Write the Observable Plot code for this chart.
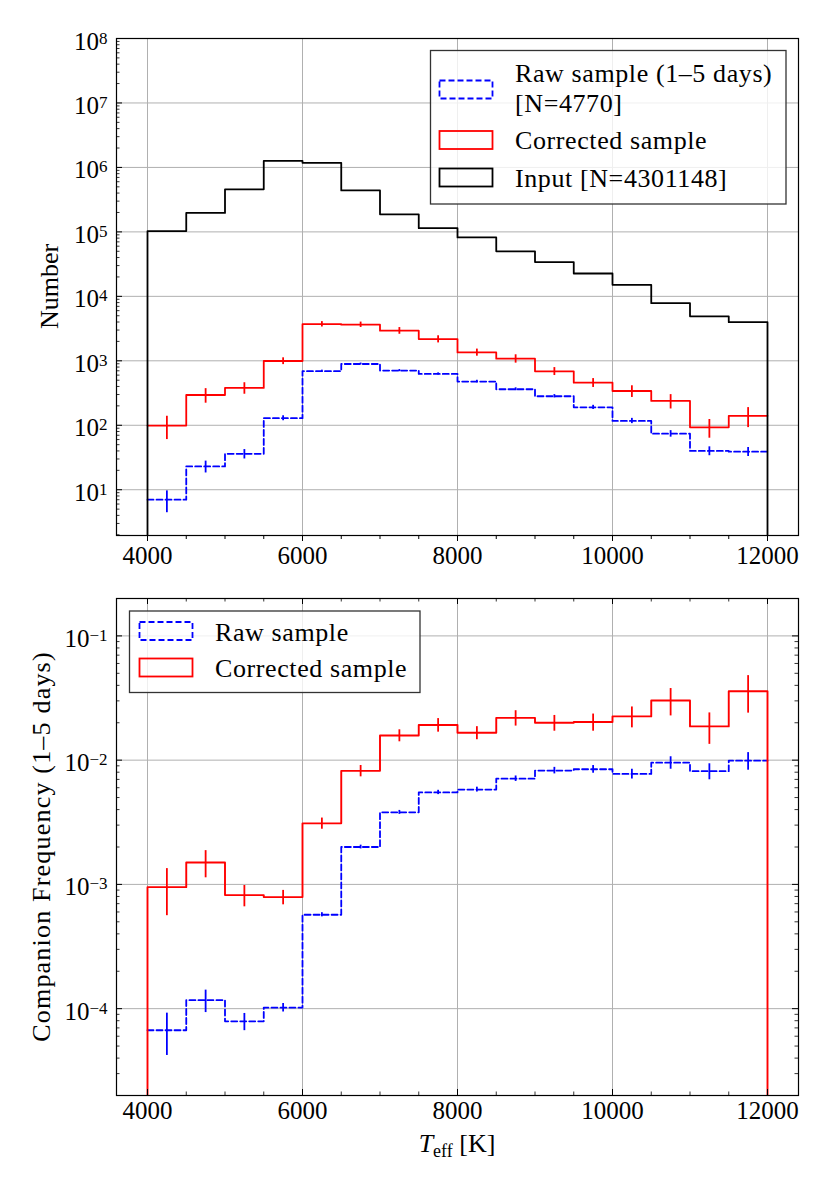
<!DOCTYPE html>
<html>
<head>
<meta charset="utf-8">
<script src="https://cdn.jsdelivr.net/npm/d3@7"></script>
<script src="https://cdn.jsdelivr.net/npm/@observablehq/plot@0.6"></script>
<style>
  body { margin: 0; background: #fff; }
  #chart svg { display: block; }
</style>
</head>
<body>
<div id="chart"></div>
<script>
// ---- data ----
const binEdges = [4000, 4500, 5000, 5500, 6000, 6500, 7000, 7500, 8000, 8500, 9000, 9500, 10000, 10500, 11000, 11500, 12000];

// top panel: numbers
const inputCounts = [1.03e5, 1.97e5, 4.57e5, 1.26e6, 1.18e6, 4.4e5, 1.87e5, 1.14e5, 8.2e4, 5.0e4, 3.4e4, 2.26e4, 1.51e4, 7.85e3, 4.9e3, 3.98e3];
const rawCounts = [7, 23, 36, 129, 690, 893, 705, 625, 477, 362, 282, 190, 117, 74, 40, 39];
const rawCountErr = [2.6, 4.8, 6.0, 11.4, 26, 30, 27, 25, 22, 19, 17, 14, 11, 8.6, 6.3, 6.2];
const corrCounts = [99, 295, 380, 993, 3700, 3640, 2930, 2170, 1350, 1080, 688, 458, 340, 239, 93, 140];
const corrCountErr = [39, 75, 77, 120, 355, 350, 350, 275, 170, 160, 97, 72, 70, 60, 30, 48];

// bottom panel: companion frequency
const rawFreq = [6.7e-5, 1.17e-4, 7.9e-5, 1.02e-4, 5.7e-4, 2.0e-3, 3.8e-3, 5.5e-3, 5.8e-3, 7.1e-3, 8.25e-3, 8.45e-3, 7.75e-3, 9.55e-3, 8.15e-3, 9.9e-3];
const rawFreqErr = [2.5e-5, 2.4e-5, 1.25e-5, 8e-6, 2.2e-5, 7e-5, 1.4e-4, 2.2e-4, 2.6e-4, 3.6e-4, 5e-4, 6e-4, 7e-4, 1.1e-3, 1.2e-3, 1.6e-3];
const corrFreq = [9.5e-4, 1.5e-3, 8.2e-4, 7.9e-4, 3.1e-3, 8.2e-3, 1.58e-2, 1.92e-2, 1.66e-2, 2.19e-2, 2.0e-2, 2.03e-2, 2.25e-2, 3.02e-2, 1.87e-2, 3.59e-2];
const corrFreqErr = [3.9e-4, 3.7e-4, 1.6e-4, 1.05e-4, 3.2e-4, 8.6e-4, 1.75e-3, 2.4e-3, 2e-3, 3.1e-3, 2.9e-3, 3.2e-3, 4.3e-3, 7.5e-3, 5.3e-3, 1.2e-2];

// ticks
const xTicks = [4000, 6000, 8000, 10000, 12000];
const xMinorTicks = [4500, 5000, 5500, 6500, 7000, 7500, 8500, 9000, 9500, 10500, 11000, 11500];
const topYTicks = [1e1, 1e2, 1e3, 1e4, 1e5, 1e6, 1e7, 1e8];
const bottomYTicks = [1e-4, 1e-3, 1e-2, 1e-1];
const xDomain = [3600, 12400];
const topYDomain = [1.95, 1e8];
const bottomYDomain = [2e-5, 0.2];

// ---- helpers ----
const FONT = '"Liberation Serif", "DejaVu Serif", serif';
const W = 830, ML = 116, MR = 32;
const PW = W - ML - MR;
const GRID = "#b0b0b0";
const BLUE = "#0000ff", RED = "#ff0000", BLACK = "#000000";

function minorLog(domain) {
  const out = [];
  const e0 = Math.floor(Math.log10(domain[0])), e1 = Math.ceil(Math.log10(domain[1]));
  for (let e = e0; e <= e1; e++) for (let k = 2; k <= 9; k++) {
    const v = k * Math.pow(10, e);
    if (v >= domain[0] * 0.999 && v <= domain[1] * 1.001) out.push(v);
  }
  return out;
}
// histogram outline; the end drops are only drawn for the top-most series
// (for lower series they are hidden beneath it anyway)
function stepPoints(values, yBottom, ends) {
  const pts = [];
  if (ends) pts.push({x: binEdges[0], y: yBottom});
  values.forEach((v, i) => { pts.push({x: binEdges[i], y: v}); pts.push({x: binEdges[i + 1], y: v}); });
  if (ends) pts.push({x: binEdges[binEdges.length - 1], y: yBottom});
  return pts;
}
function bins(values, errs) {
  return values.map((v, i) => ({c: (binEdges[i] + binEdges[i + 1]) / 2, v, e: errs[i]}));
}
function supLabels(svg) {
  d3.select(svg).selectAll('g[aria-label="y-axis tick label"] text').each(function () {
    const t = this.textContent;
    const [b, e] = t.split("^");
    this.textContent = b;
    d3.select(this).append("tspan").attr("dy", -6).attr("font-size", 17).text(e.replace("-", "\u2212"));
  });
}
function legend(svg, box, entries) {
  const g = d3.select(svg).append("g").attr("font-family", FONT).attr("font-size", 26)
    .attr("letter-spacing", "0.6px").attr("text-anchor", "start");
  g.append("rect").attr("x", box.x).attr("y", box.y).attr("width", box.w).attr("height", box.h)
    .attr("fill", "white").attr("fill-opacity", 0.8).attr("stroke", "#333").attr("stroke-width", 1.3);
  for (const en of entries) {
    g.append("rect").attr("x", en.px).attr("y", en.py).attr("width", 53).attr("height", 18)
      .attr("fill", "none").attr("stroke", en.color).attr("stroke-width", 1.8)
      .attr("stroke-dasharray", en.dash || null);
    en.lines.forEach((ln, j) => {
      g.append("text").attr("x", en.tx).attr("y", en.ty + j * 30).attr("fill", "#000").text(ln);
    });
  }
}

// ---- top panel ----
const topH = 570, topMT = 38, topMB = 35;
const topPH = topH - topMT - topMB;
const topChart = Plot.plot({
  width: W, height: topH,
  marginLeft: ML, marginRight: MR, marginTop: topMT, marginBottom: topMB,
  style: {fontFamily: FONT, fontSize: "25px", background: "white", overflow: "visible"},
  x: {domain: xDomain},
  y: {type: "log", domain: topYDomain},
  marks: [
    Plot.gridX(xTicks, {stroke: GRID, strokeOpacity: 1, strokeWidth: 1}),
    Plot.gridY(topYTicks, {stroke: GRID, strokeOpacity: 1, strokeWidth: 1}),
    Plot.line(stepPoints(rawCounts, topYDomain[0], false), {x: "x", y: "y", stroke: BLUE, strokeWidth: 1.8, strokeDasharray: "6,3", clip: true}),
    Plot.ruleX(bins(rawCounts, rawCountErr), {x: "c", y1: d => d.v - d.e, y2: d => d.v + d.e, stroke: BLUE, strokeWidth: 1.8, clip: true}),
    Plot.line(stepPoints(corrCounts, topYDomain[0], false), {x: "x", y: "y", stroke: RED, strokeWidth: 1.8, clip: true}),
    Plot.ruleX(bins(corrCounts, corrCountErr), {x: "c", y1: d => d.v - d.e, y2: d => d.v + d.e, stroke: RED, strokeWidth: 1.8, clip: true}),
    Plot.line(stepPoints(inputCounts, topYDomain[0], true), {x: "x", y: "y", stroke: BLACK, strokeWidth: 1.8, clip: true}),
    // inward y ticks (left)
    Plot.tickY(topYTicks, {y: d => d, insetRight: PW - 6, stroke: "black", strokeWidth: 1}),
    Plot.tickY(minorLog(topYDomain), {y: d => d, insetRight: PW - 3.5, stroke: "black", strokeWidth: 0.8}),
    Plot.axisY(topYTicks, {tickSize: 0, tickPadding: 9, dy: 3, fontSize: 25, tickFormat: d => "10^" + Math.round(Math.log10(d)), label: null}),
    Plot.axisX(xTicks, {tickSize: 6, tickPadding: 5, fontSize: 25, tickFormat: d => `${d}`, label: null}),
    Plot.axisX(xMinorTicks, {tickSize: 4, tickFormat: () => "", label: null}),
    Plot.frame({stroke: "black", strokeWidth: 1.2})
  ]
});
supLabels(topChart);
d3.select(topChart).append("text").attr("transform", `translate(58,${topMT + topPH / 2}) rotate(-90)`)
  .attr("text-anchor", "middle").attr("font-family", FONT).attr("font-size", 26).attr("fill", "#000").text("Number");
legend(topChart, {x: 430.5, y: 50.5, w: 355.5, h: 153.5}, [
  {px: 439.5, py: 80.5, color: BLUE, dash: "6,3", tx: 515, ty: 82, lines: ["Raw sample (1\u20135 days)", "[N=4770]"]},
  {px: 439.5, py: 131, color: RED, tx: 515, ty: 149, lines: ["Corrected sample"]},
  {px: 439.5, py: 168.5, color: BLACK, tx: 515, ty: 187, lines: ["Input [N=4301148]"]}
]);

// ---- bottom panel ----
const botH = 616, botMT = 28, botMB = 91;
const botPH = botH - botMT - botMB;
const bottomChart = Plot.plot({
  width: W, height: botH,
  marginLeft: ML, marginRight: MR, marginTop: botMT, marginBottom: botMB,
  style: {fontFamily: FONT, fontSize: "25px", background: "white", overflow: "visible"},
  x: {domain: xDomain},
  y: {type: "log", domain: bottomYDomain},
  marks: [
    Plot.gridX(xTicks, {stroke: GRID, strokeOpacity: 1, strokeWidth: 1}),
    Plot.gridY(bottomYTicks, {stroke: GRID, strokeOpacity: 1, strokeWidth: 1}),
    Plot.line(stepPoints(rawFreq, bottomYDomain[0], false), {x: "x", y: "y", stroke: BLUE, strokeWidth: 1.8, strokeDasharray: "6,3", clip: true}),
    Plot.ruleX(bins(rawFreq, rawFreqErr), {x: "c", y1: d => d.v - d.e, y2: d => d.v + d.e, stroke: BLUE, strokeWidth: 1.8, clip: true}),
    Plot.line(stepPoints(corrFreq, bottomYDomain[0], true), {x: "x", y: "y", stroke: RED, strokeWidth: 1.9, clip: true}),
    Plot.ruleX(bins(corrFreq, corrFreqErr), {x: "c", y1: d => d.v - d.e, y2: d => d.v + d.e, stroke: RED, strokeWidth: 1.8, clip: true}),
    // inward ticks on all four sides
    Plot.tickY(bottomYTicks, {y: d => d, insetRight: PW - 6, stroke: "black", strokeWidth: 1}),
    Plot.tickY(minorLog(bottomYDomain), {y: d => d, insetRight: PW - 3.5, stroke: "black", strokeWidth: 0.8}),
    Plot.tickY(bottomYTicks, {y: d => d, insetLeft: PW - 6, stroke: "black", strokeWidth: 1}),
    Plot.tickY(minorLog(bottomYDomain), {y: d => d, insetLeft: PW - 3.5, stroke: "black", strokeWidth: 0.8}),
    Plot.tickX(xTicks, {x: d => d, insetTop: botPH - 6, stroke: "black", strokeWidth: 1}),
    Plot.tickX(xMinorTicks, {x: d => d, insetTop: botPH - 3.5, stroke: "black", strokeWidth: 0.8}),
    Plot.tickX(xTicks, {x: d => d, insetBottom: botPH - 6, stroke: "black", strokeWidth: 1}),
    Plot.tickX(xMinorTicks, {x: d => d, insetBottom: botPH - 3.5, stroke: "black", strokeWidth: 0.8}),
    Plot.axisY(bottomYTicks, {tickSize: 0, tickPadding: 9, dy: 3, fontSize: 25, tickFormat: d => "10^" + Math.round(Math.log10(d)), label: null}),
    Plot.axisX(xTicks, {tickSize: 0, tickPadding: 6, fontSize: 25, tickFormat: d => `${d}`, label: null}),
    Plot.frame({stroke: "black", strokeWidth: 1.2})
  ]
});
supLabels(bottomChart);
d3.select(bottomChart).append("text").attr("transform", `translate(49.5,${botMT + botPH / 2}) rotate(-90)`)
  .attr("text-anchor", "middle").attr("font-family", FONT).attr("font-size", 26).attr("letter-spacing", "1.2px")
  .attr("fill", "#000").text("Companion Frequency (1\u20135 days)");
{
  const t = d3.select(bottomChart).append("text").attr("x", ML + PW / 2).attr("y", botMT + botPH + 57)
    .attr("text-anchor", "middle").attr("font-family", FONT).attr("font-size", 26).attr("fill", "#000");
  t.append("tspan").attr("font-style", "italic").text("T");
  t.append("tspan").attr("font-size", 18).attr("dy", 5).text("eff");
  t.append("tspan").attr("dy", -5).text("\u00a0[K]");
}
legend(bottomChart, {x: 129.5, y: 41, w: 290.5, h: 81.5}, [
  {px: 139.5, py: 52, color: BLUE, dash: "6,3", tx: 215, ty: 70.5, lines: ["Raw sample"]},
  {px: 139.5, py: 88.5, color: RED, tx: 215, ty: 107, lines: ["Corrected sample"]}
]);

document.getElementById("chart").append(topChart, bottomChart);
</script>
</body>
</html>
